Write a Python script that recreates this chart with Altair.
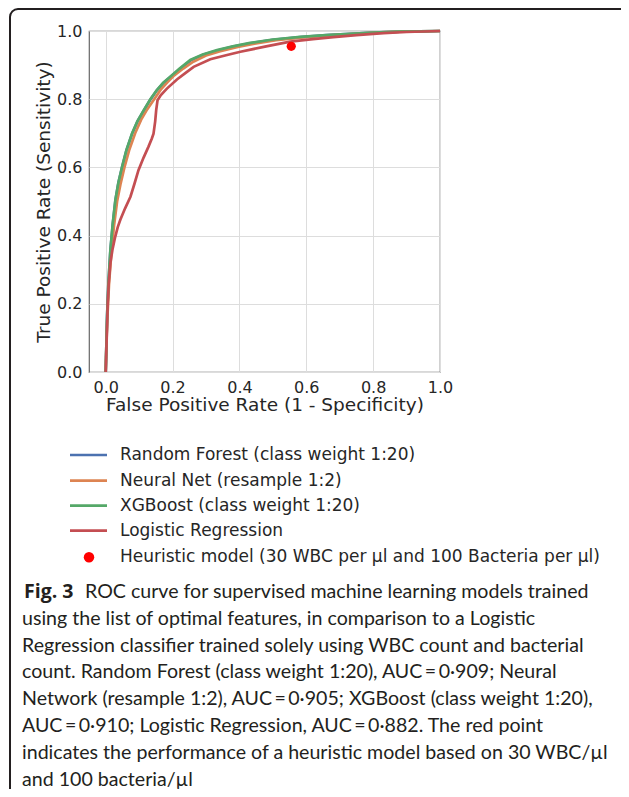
import altair as alt
import pandas as pd

# ---------------- data ----------------
models = ["Random Forest (class weight 1:20)", "Neural Net (resample 1:2)",
          "XGBoost (class weight 1:20)", "Logistic Regression"]
colors = ["#4C72B0", "#DD8452", "#55A868", "#C44E52"]

rf_fpr = [0.0, 0.002, 0.004, 0.008, 0.014, 0.021, 0.029, 0.038, 0.049, 0.062, 0.079, 0.095, 0.114, 0.133, 0.153,
          0.172, 0.194, 0.221, 0.254, 0.291, 0.334, 0.381, 0.433, 0.5, 0.582, 0.66, 0.731, 0.8, 0.88, 0.94, 1.0]
rf_tpr = [0.0, 0.08, 0.162, 0.258, 0.356, 0.433, 0.503, 0.555, 0.601, 0.65, 0.699, 0.735, 0.767, 0.798, 0.826,
          0.847, 0.866, 0.888, 0.914, 0.93, 0.943, 0.954, 0.964, 0.974, 0.982, 0.988, 0.992, 0.995, 0.998, 0.999, 1.0]

nn_fpr = [0.0, 0.002, 0.005, 0.01, 0.017, 0.025, 0.034, 0.044, 0.056, 0.07, 0.088, 0.106, 0.124, 0.145, 0.166,
          0.185, 0.205, 0.232, 0.262, 0.3, 0.34, 0.395, 0.445, 0.51, 0.59, 0.665, 0.735, 0.805, 0.88, 1.0]
nn_tpr = [0.0, 0.08, 0.16, 0.26, 0.35, 0.43, 0.5, 0.55, 0.6, 0.65, 0.7, 0.74, 0.77, 0.8, 0.83,
          0.85, 0.87, 0.89, 0.91, 0.928, 0.94, 0.953, 0.963, 0.973, 0.981, 0.987, 0.991, 0.995, 0.998, 1.0]

xgb_fpr = [0.0, 0.002, 0.004, 0.008, 0.014, 0.021, 0.029, 0.038, 0.049, 0.062, 0.079, 0.095, 0.114, 0.133, 0.153,
           0.172, 0.193, 0.22, 0.253, 0.29, 0.333, 0.38, 0.432, 0.5, 0.582, 0.66, 0.731, 0.8, 0.88, 0.94, 1.0]
xgb_tpr = [0.0, 0.08, 0.163, 0.26, 0.358, 0.435, 0.505, 0.556, 0.602, 0.651, 0.7, 0.736, 0.768, 0.799, 0.827,
           0.848, 0.866, 0.889, 0.915, 0.931, 0.944, 0.955, 0.965, 0.975, 0.983, 0.988, 0.992, 0.995, 0.998, 0.999, 1.0]

lr_fpr = [0.0, 0.003, 0.006, 0.009, 0.014, 0.02, 0.028, 0.036, 0.044, 0.058, 0.074, 0.086, 0.098, 0.113, 0.128,
          0.138, 0.143, 0.148, 0.151, 0.155, 0.165, 0.183, 0.213, 0.24, 0.263, 0.313, 0.36, 0.403, 0.48, 0.552,
          0.62, 0.681, 0.75, 0.831, 0.9, 1.0]
lr_tpr = [0.0, 0.1, 0.2, 0.26, 0.32, 0.358, 0.395, 0.425, 0.447, 0.48, 0.514, 0.552, 0.592, 0.628, 0.661,
          0.685, 0.699, 0.735, 0.768, 0.797, 0.812, 0.831, 0.858, 0.878, 0.895, 0.917, 0.929, 0.939, 0.955, 0.969,
          0.976, 0.982, 0.988, 0.994, 0.997, 1.0]

heuristic_label = ["Heuristic model (30 WBC per µl and 100 Bacteria per µl)"]
heuristic_fpr = [0.555]
heuristic_tpr = [0.955]

x_ticks = [0.0, 0.2, 0.4, 0.6, 0.8, 1.0]
y_ticks = [0.0, 0.2, 0.4, 0.6, 0.8, 1.0]

caption_bold = "Fig. 3"
caption_lines = [
    "ROC curve for supervised machine learning models trained",
    "using the list of optimal features, in comparison to a Logistic",
    "Regression classifier trained solely using WBC count and bacterial",
    "count. Random Forest (class weight 1:20), AUC\u2009=\u20090·909; Neural",
    "Network (resample 1:2), AUC\u2009=\u20090·905; XGBoost (class weight 1:20),",
    "AUC\u2009=\u20090·910; Logistic Regression, AUC\u2009=\u20090·882. The red point",
    "indicates the performance of a heuristic model based on 30 WBC/µl",
    "and 100 bacteria/µl",
]

# ---------------- tables ----------------
rows = []
for m, fx, ty in zip(models, [rf_fpr, nn_fpr, xgb_fpr, lr_fpr], [rf_tpr, nn_tpr, xgb_tpr, lr_tpr]):
    for i, (a, b) in enumerate(zip(fx, ty)):
        rows.append({"model": m, "fpr": a, "tpr": b, "i": i})
curves = pd.DataFrame(rows)
pt = pd.DataFrame({"label": heuristic_label, "fpr": heuristic_fpr, "tpr": heuristic_tpr})

PW, PH = 351, 341
TOTAL_W, TOTAL_H = 613, 781
PAD_L, PAD_T = 81, 23
OX, OY = 8 + PAD_L, 8 + PAD_T  # page position of plot origin

xscale = alt.Scale(domain=[-0.05, 1.0], nice=False, zero=False)
yscale = alt.Scale(domain=[0.0, 1.0], nice=False)
xaxis = alt.Axis(values=x_ticks, format=".1f", title="False Positive Rate (1 - Specificity)", labelFlush=False)
yaxis = alt.Axis(values=y_ticks, format=".1f", title="True Positive Rate (Sensitivity)", labelFlush=False)
color = alt.Color("model:N", scale=alt.Scale(domain=models, range=colors), legend=None)

layers = []
for m in models:
    layers.append(
        alt.Chart(curves).transform_filter(alt.datum.model == m).mark_line(strokeWidth=2.7).encode(
            x=alt.X("fpr:Q", scale=xscale, axis=xaxis),
            y=alt.Y("tpr:Q", scale=yscale, axis=yaxis),
            color=color,
            order="i:Q",
        )
    )

point = alt.Chart(pt).mark_point(filled=True, size=85, color="#ff0000", opacity=1).encode(
    x=alt.X("fpr:Q", scale=xscale, axis=xaxis),
    y=alt.Y("tpr:Q", scale=yscale, axis=yaxis),
)

# ---------------- legend (drawn below the plot) ----------------
LEG_FS = 17
leg_rows_page = [455, 480.7, 505.7, 530.7, 557.3]
leg_layers = []
for k, m in enumerate(models):
    d = pd.DataFrame({"model": [m]})
    yy = leg_rows_page[k] - OY
    leg_layers.append(
        alt.Chart(d).mark_rule(strokeWidth=2.7).encode(
            x=alt.value(70 - OX), x2=alt.value(107 - OX), y=alt.value(yy), color=color)
    )
    leg_layers.append(
        alt.Chart(d).mark_text(align="left", baseline="middle", font="DejaVu Sans", fontSize=LEG_FS,
                               color="#262626").encode(
            x=alt.value(120 - OX), y=alt.value(yy), text="model:N")
    )
hy = leg_rows_page[4] - OY
leg_layers.append(
    alt.Chart(pt).mark_point(filled=True, size=110, color="#ff0000", opacity=1).encode(
        x=alt.value(89 - OX), y=alt.value(hy))
)
leg_layers.append(
    alt.Chart(pt).mark_text(align="left", baseline="middle", font="DejaVu Sans", fontSize=LEG_FS,
                            color="#262626").encode(
        x=alt.value(120 - OX), y=alt.value(hy), text="label:N")
)

# frame
frame = alt.Chart(pd.DataFrame({"k": [0]})).mark_rect(
    fill=None, stroke="#231f20", strokeWidth=2, cornerRadius=8
).encode(x=alt.value(-79), x2=alt.value(600), y=alt.value(-22), y2=alt.value(800))

# ---------------- caption ----------------
CAP_FONT = "Lato"
CAP_SIZE = 19.6
LINE_H = 26.8
cap_y0 = 592 - OY
cap_layers = []
cap_layers.append(
    alt.Chart(pd.DataFrame({"t": [caption_bold]})).mark_text(
        align="left", baseline="middle", font="Open Sans", fontSize=19.5, fontWeight="bold", color="#231f20"
    ).encode(text="t:N", x=alt.value(24 - OX), y=alt.value(cap_y0))
)
for k, line in enumerate(caption_lines):
    xoff = (85 - OX) if k == 0 else (22 - OX)
    cap_layers.append(
        alt.Chart(pd.DataFrame({"t": [line]})).mark_text(
            align="left", baseline="middle", font=CAP_FONT, fontSize=CAP_SIZE, color="#231f20"
        ).encode(text="t:N", x=alt.value(xoff), y=alt.value(cap_y0 + k * LINE_H))
    )

chart = alt.layer(frame, *layers, point, *leg_layers, *cap_layers).properties(
    width=PW, height=PH,
    autosize=alt.AutoSizeParams(type="none"),
    padding={"left": PAD_L, "top": PAD_T, "right": TOTAL_W - PAD_L - PW, "bottom": TOTAL_H - PAD_T - PH},
).configure_view(stroke="#666666", strokeWidth=1.2).configure_axis(
    domain=False, ticks=False, grid=True, gridColor="#dddddd", gridWidth=1,
    labelFont="DejaVu Sans", labelFontSize=16, labelColor="#262626", labelPadding=7,
    titleFont="DejaVu Sans", titleFontSize=18.5, titleColor="#262626", titleFontWeight="normal",
).configure_axisX(titlePadding=0).configure_axisY(titlePadding=3)

chart.save("out.html", embed_options={"renderer": "svg", "actions": False})
